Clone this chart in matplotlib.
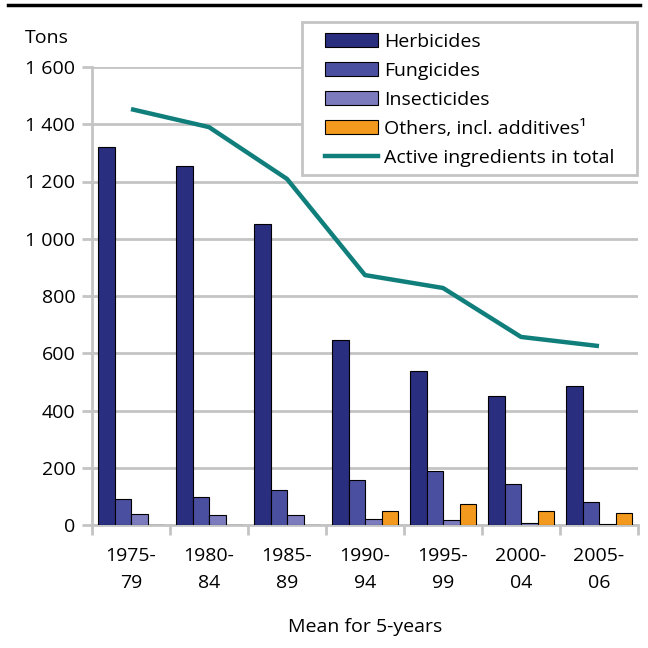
import matplotlib
matplotlib.use("Agg")
import matplotlib.pyplot as plt
import numpy as np
from matplotlib.patches import Patch, Rectangle
from matplotlib.lines import Line2D

plt.rcParams['font.family'] = ['Open Sans', 'DejaVu Sans']

categories = ["1975-\n79", "1980-\n84", "1985-\n89", "1990-\n94", "1995-\n99", "2000-\n04", "2005-\n06"]
herbicides = [1320, 1254, 1051, 646, 538, 451, 486]
fungicides = [91, 97, 122, 156, 190, 142, 82]
insecticides = [40, 34, 35, 20, 18, 7, 4]
others = [0, 0, 0, 48, 74, 48, 43]
total = [1453, 1390, 1209, 873, 828, 657, 625]

series = [("Herbicides", herbicides, "#2a2e7e"),
          ("Fungicides", fungicides, "#4b4fa0"),
          ("Insecticides", insecticides, "#7b7bbd"),
          ("Others, incl. additives¹", others, "#f39a1e")]
line_color = "#107f7c"
grid_color = "#c4c4c4"
FS = 14

fig = plt.figure(figsize=(6.48, 6.48), dpi=100)
ax = fig.add_axes([92/648, 1-525/648, (638-92)/648, (525-67)/648])

x = np.arange(len(categories))
bw = 0.212
start = -0.5 + 6/78
for i, (name, vals, col) in enumerate(series):
    ax.bar(x + start + bw*(i+0.5), vals, width=bw, color=col, edgecolor="black",
           linewidth=0.8, zorder=3)

ax.plot(x, total, color=line_color, linewidth=3.2, zorder=4, solid_capstyle='butt')

ax.set_xlim(-0.5, len(categories)-0.5)
ax.set_ylim(0, 1600)
ax.set_yticks(np.arange(0, 1601, 200))
ax.set_yticklabels(["0", "200", "400", "600", "800", "1 000", "1 200", "1 400", "1 600"])
ax.yaxis.grid(True, color=grid_color, linewidth=2, zorder=0)
ax.set_axisbelow(True)

ax.set_xticks(np.arange(-0.5, len(categories)), minor=False)
ax.set_xticklabels([""]*(len(categories)+1))
ax.set_xticks(x, minor=True)
ax.set_xticklabels(categories, minor=True, fontsize=FS, linespacing=1.6)
ax.tick_params(axis='x', which='minor', length=0, pad=16)
ax.tick_params(axis='x', which='major', length=7, width=2, color=grid_color)
ax.tick_params(axis='y', length=7, width=2, color=grid_color, labelsize=FS, pad=5)

for s in ['top', 'right']:
    ax.spines[s].set_visible(False)
for s in ['left', 'bottom']:
    ax.spines[s].set_color(grid_color)
    ax.spines[s].set_linewidth(2)

fig.text(25/648, 1-38/648, "Tons", fontsize=FS, va='center', ha='left')
fig.text(365/648, 1-627/648, "Mean for 5-years", fontsize=FS, va='center', ha='center')

# top rule
fig.add_artist(Line2D([8/648, 640/648], [1-5/648, 1-5/648], color='black', linewidth=2.5))

# legend frame
fig.add_artist(Rectangle((302/648, 1-175/648), (637-302)/648, (175-22)/648,
                         transform=fig.transFigure, facecolor='white',
                         edgecolor=grid_color, linewidth=2, zorder=5))

handles = [Patch(facecolor=c, edgecolor='black', linewidth=0.8, label=n) for n, _, c in series]
handles.append(Line2D([0], [0], color=line_color, linewidth=3.2, label="Active ingredients in total"))
leg = fig.legend(handles=handles, loc='upper left', bbox_to_anchor=(325/648, 1-33/648),
                 fontsize=FS, frameon=False,
                 handlelength=2.75, handleheight=0.75, handletextpad=0.3,
                 labelspacing=0.56, borderpad=0, borderaxespad=0)
leg.set_zorder(6)

fig.savefig("out.png", dpi=100)
